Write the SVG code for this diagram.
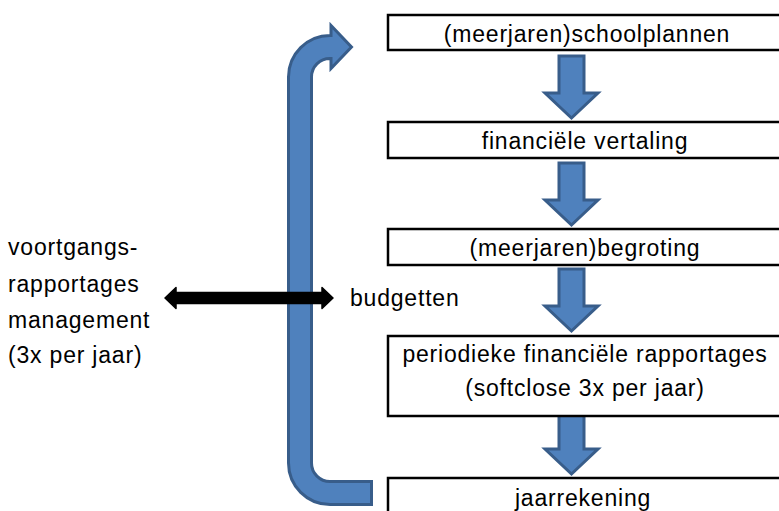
<svg xmlns="http://www.w3.org/2000/svg" width="779" height="511" viewBox="0 0 779 511">
<style>
.box{fill:#fff;stroke:#000;stroke-width:2.5}
.t{font-family:"Liberation Sans",Arial,sans-serif;font-size:23px;letter-spacing:0.8px;fill:#000}
.c{text-anchor:middle}
.blue{fill:#4F81BD;stroke:#385D8A;stroke-width:3;stroke-linejoin:miter}
</style>
<defs>
<path id="down" d="M-12.5,0 H12.5 V37 H26.5 L0,62 L-26.5,37 H-12.5 Z"/>
</defs>
<rect width="779" height="511" fill="#fff"/>
<g id="connectors">
<path id="loop" class="blue" d="M351.5,47 L331,25.5 V35.5 H330 A41.5,41.5 0 0 0 288.5,77 V463 A41.5,41.5 0 0 0 330,504.5 H371.5 V481.5 H330 A18.5,18.5 0 0 1 311.5,463 V77 A18.5,18.5 0 0 1 330,58.5 H331 V68.5 Z"/>
<use href="#down" class="blue" x="571.5" y="56"/>
<use href="#down" class="blue" x="571.5" y="163"/>
<use href="#down" class="blue" x="571.5" y="269"/>
<use href="#down" class="blue" x="571.5" y="412"/>
<path id="budget-arrow" d="M165,298 L176,287.5 V292.5 H322 V287.5 L333,298 L322,308.5 V303.5 H176 V308.5 Z" fill="#000" stroke="#000" stroke-width="1.5" stroke-linejoin="round"/>
</g>
<g id="n1"><rect class="box" x="388" y="15" width="394" height="35"/><text class="t c" x="587" y="42">(meerjaren)schoolplannen</text></g>
<g id="n2"><rect class="box" x="388" y="122" width="394" height="36"/><text class="t c" x="585" y="149">financiële vertaling</text></g>
<g id="n3"><rect class="box" x="388" y="229" width="394" height="36"/><text class="t c" x="585" y="256">(meerjaren)begroting</text></g>
<g id="n4"><rect class="box" x="388" y="336" width="394" height="80"/><text class="t c" x="585" y="362">periodieke financiële rapportages</text><text class="t c" x="585" y="396">(softclose 3x per jaar)</text></g>
<g id="n5"><rect class="box" x="388" y="478" width="394" height="40"/><text class="t c" x="583" y="506">jaarrekening</text></g>
<g id="budgetten"><text class="t" x="350" y="306">budgetten</text></g>
<g id="voortgang"><text class="t" x="8" y="255">voortgangs-</text><text class="t" x="8" y="292">rapportages</text><text class="t" x="8" y="328">management</text><text class="t" x="8" y="363">(3x per jaar)</text></g>
</svg>
